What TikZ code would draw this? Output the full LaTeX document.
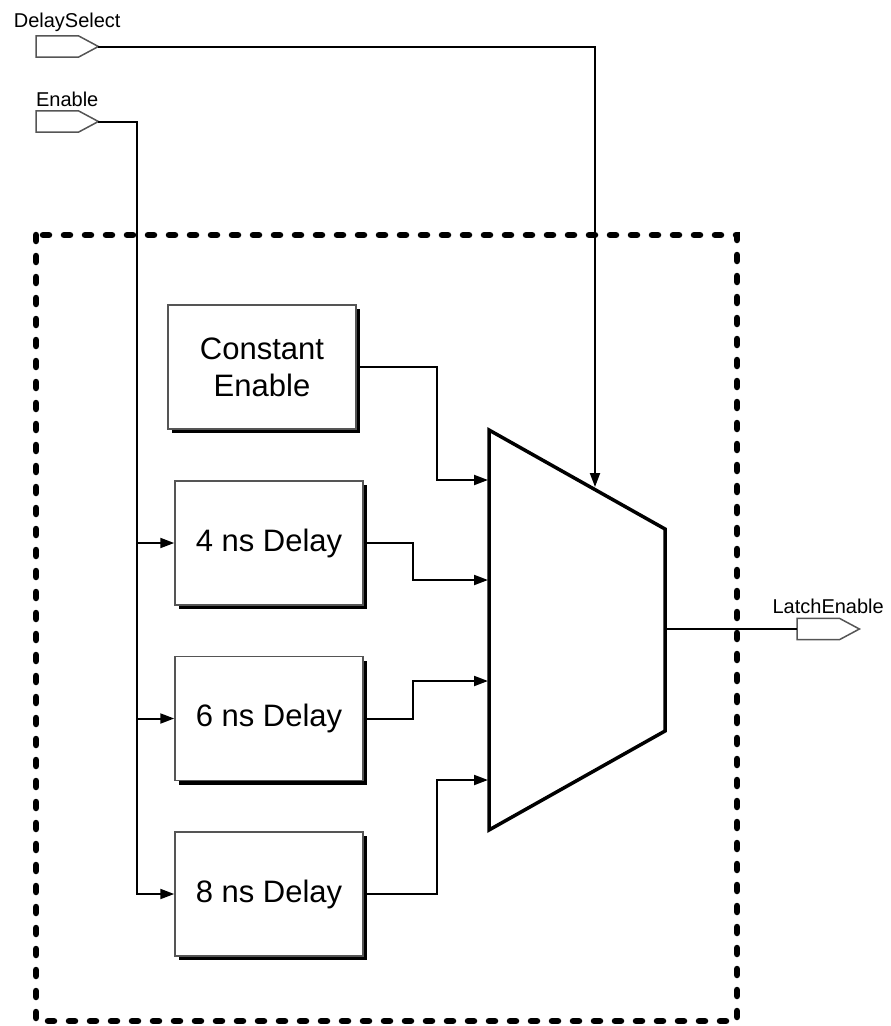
\documentclass[tikz,border=0pt]{standalone}
\usepackage{fontspec}
\setmainfont{Liberation Sans}
\definecolor{boxgray}{HTML}{555555}
\usetikzlibrary{positioning,arrows.meta,shadows}

\begin{document}
\begin{tikzpicture}[
        x=1pt, y=-1pt,
        wire/.style={line width=2pt},
        sig/.style={wire,-{Triangle[length=14pt,width=10pt]}},
        delaybox/.style={draw=boxgray,line width=1.5pt,fill=white,minimum width=188pt,minimum height=124pt,
            align=center,font=\fontsize{31}{37}\selectfont,
            general shadow={fill=black,shadow xshift=4pt,shadow yshift=-4pt}},
        port/.style={anchor=west,minimum width=62pt,minimum height=21pt,inner sep=0pt},
        port label/.style={font=\fontsize{20}{24}\selectfont,label distance=1pt}
    ]
        \useasboundingbox (0,0) rectangle (891,1026);
        % block boundary
        \draw[line width=6.5pt,line cap=round,dash pattern=on 6pt off 15pt] (36,235) rectangle (737,1021);

        \node[port,label={[port label]above:DelaySelect}] (dsel) at (36,46.5) {};
        \node[port,label={[port label]above:Enable}] (en) at (36,121.5) {};
        \node[port,label={[port label]above:LatchEnable}] (latch) at (797,629) {};
        % port outlines
        \foreach \p in {dsel,en,latch}
            \draw[boxgray,line width=1.5pt,line join=miter] (\p.north west) -- ([xshift=-20pt]\p.north east)
                -- (\p.east) -- ([xshift=-20pt]\p.south east) -- (\p.south west) -- cycle;

        \node[delaybox] (const) at (262,367) {Constant\\Enable};
        \node[delaybox] (d4) at (269,543) {4 ns Delay};
        \node[delaybox] (d6) [below=50pt of d4] {6 ns Delay};
        \node[delaybox] (d8) [below=50pt of d6] {8 ns Delay};

        % multiplexer
        \draw[line width=3.5pt,line join=miter] (489,430) -- (665,529) -- (665,731) -- (489,830) -- cycle;
        \coordinate (msel) at (595,487);
        \coordinate (mout) at (665,629);
        \coordinate (in1) at (488,480);
        \coordinate (in2) at (488,580);
        \coordinate (in3) at (488,681);
        \coordinate (in4) at (488,780);
        \coordinate (bus) at (137,122);
        \coordinate (jogA) at (437,0);
        \coordinate (jogB) at (413,0);

        \draw[sig] (dsel.east) -| (msel);
        \draw[sig] (en.east) -| (bus |- d8.west) -- (d8.west);
        \draw[sig] (bus |- d4.west) -- (d4.west);
        \draw[sig] (bus |- d6.west) -- (d6.west);

        \draw[sig] (const.east) -| (jogA |- in1) -- (in1);
        \draw[sig] (d4.east) -| (jogB |- in2) -- (in2);
        \draw[sig] (d6.east) -| (jogB |- in3) -- (in3);
        \draw[sig] (d8.east) -| (jogA |- in4) -- (in4);

        \draw[wire] (mout) -- (latch.west);
    \end{tikzpicture}
\end{document}
